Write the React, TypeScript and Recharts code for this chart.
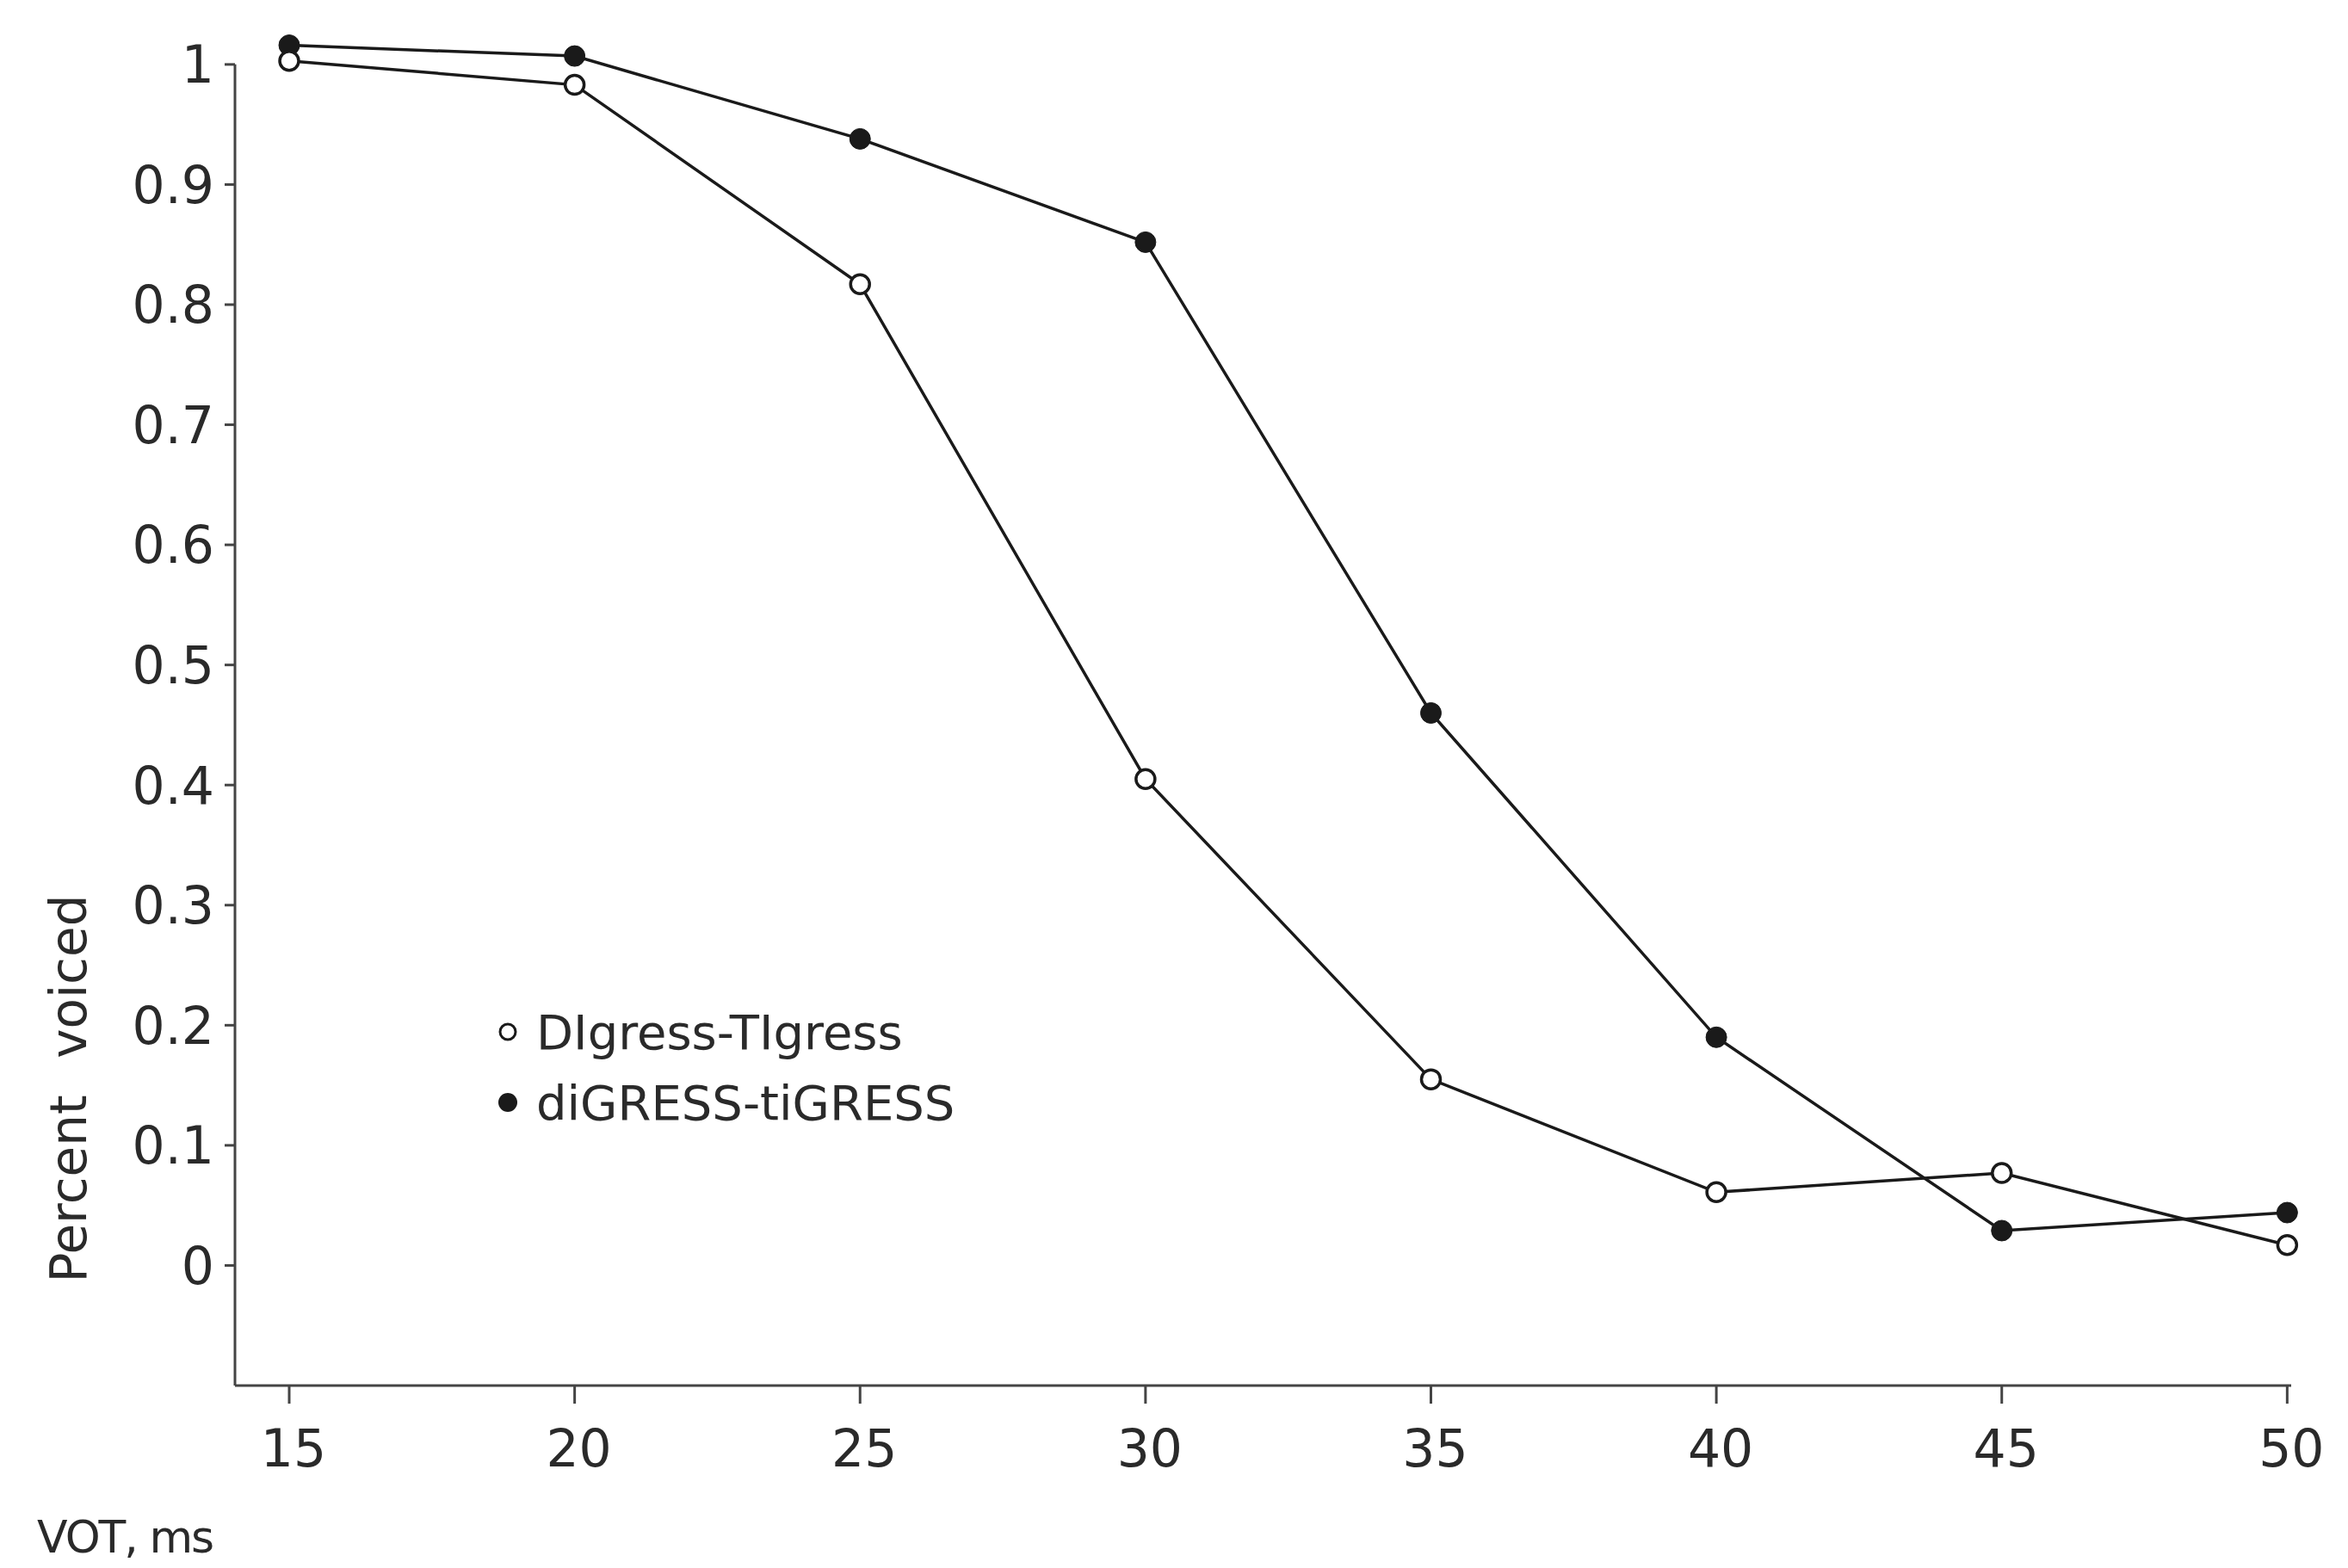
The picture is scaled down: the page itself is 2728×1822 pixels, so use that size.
import { LineChart, Line, XAxis, YAxis, ReferenceLine, Legend, Customized } from "recharts";

const vot = [15, 20, 25, 30, 35, 40, 45, 50];
const digressTigress = [1.003, 0.983, 0.817, 0.405, 0.155, 0.061, 0.077, 0.017];
const digressTigressCaps = [1.016, 1.007, 0.938, 0.852, 0.46, 0.19, 0.029, 0.044];
const yTicks = [0, 0.1, 0.2, 0.3, 0.4, 0.5, 0.6, 0.7, 0.8, 0.9, 1];
const seriesNames = ["DIgress-TIgress", "diGRESS-tiGRESS"];

const rows = vot.map((v, i) => ({ vot: v, open: digressTigress[i], filled: digressTigressCaps[i] }));

const INK = "#1a1a1a";
const AXIS = "#444";
const FONT = "'DejaVu Sans', sans-serif";
const X_MIN = 14.05;
const X_MAX = 50.07;

function AxisTitles() {
  return (
    <g fill="#2a2a2a" fontFamily={FONT}>
      <text x={43} y={1804} fontSize={52} letterSpacing={-2}>VOT, ms</text>
      <text x={100} y={1265} fontSize={58} textAnchor="middle" wordSpacing={24} transform="rotate(-90 100 1265)">
        Percent voiced
      </text>
    </g>
  );
}

function LegendBox() {
  const row = { display: "flex", alignItems: "center", height: 82, fontSize: 56, fontFamily: FONT, color: "#2a2a2a", whiteSpace: "nowrap" as const };
  return (
    <div>
      <div style={row}>
        <svg width={26} height={26} style={{ marginRight: 20 }}><circle cx={13} cy={13} r={9} fill="#fff" stroke={INK} strokeWidth={3} /></svg>
        {seriesNames[0]}
      </div>
      <div style={row}>
        <svg width={26} height={26} style={{ marginRight: 20 }}><circle cx={13} cy={13} r={11} fill={INK} /></svg>
        {seriesNames[1]}
      </div>
    </div>
  );
}

export default function App() {
  return (
    <div style={{ position: "absolute", left: 0, top: 0, width: 2728, height: 1822, background: "#fff" }}>
      <LineChart width={2728} height={1822} data={rows} margin={{ top: 33, right: 66, bottom: 92, left: 73 }}>
        <XAxis
          type="number"
          dataKey="vot"
          domain={[X_MIN, X_MAX]}
          ticks={vot}
          height={120}
          tickSize={21}
          tickMargin={30}
          axisLine={{ stroke: AXIS, strokeWidth: 3 }}
          tickLine={{ stroke: AXIS, strokeWidth: 3 }}
          tick={{ fill: "#2a2a2a", fontSize: 60, fontFamily: FONT, dx: 5 }}
        />
        <YAxis
          type="number"
          domain={[-0.1, 1.03]}
          ticks={yTicks}
          width={200}
          axisLine={false}
          tickSize={12}
          tickMargin={12}
          tickLine={{ stroke: AXIS, strokeWidth: 3 }}
          tick={{ fill: "#2a2a2a", fontSize: 60, fontFamily: FONT }}
        />
        <ReferenceLine segment={[{ x: X_MIN, y: -0.1 }, { x: X_MIN, y: 1 }]} stroke={AXIS} strokeWidth={3} />
        <Legend
          layout="horizontal"
          verticalAlign="middle"
          align="center"
          content={() => <LegendBox />}
          wrapperStyle={{ position: "absolute", left: 577, top: 1158, width: "auto" }}
        />
        <Line
          type="linear"
          dataKey="filled"
          name={seriesNames[1]}
          stroke={INK}
          strokeWidth={3.5}
          dot={{ r: 12, fill: INK, stroke: INK, strokeWidth: 1 }}
          isAnimationActive={false}
        />
        <Line
          type="linear"
          dataKey="open"
          name={seriesNames[0]}
          stroke={INK}
          strokeWidth={3.5}
          dot={{ r: 11, fill: "#fff", stroke: INK, strokeWidth: 3.5 }}
          isAnimationActive={false}
        />
        <Customized component={AxisTitles} />
      </LineChart>
    </div>
  );
}
